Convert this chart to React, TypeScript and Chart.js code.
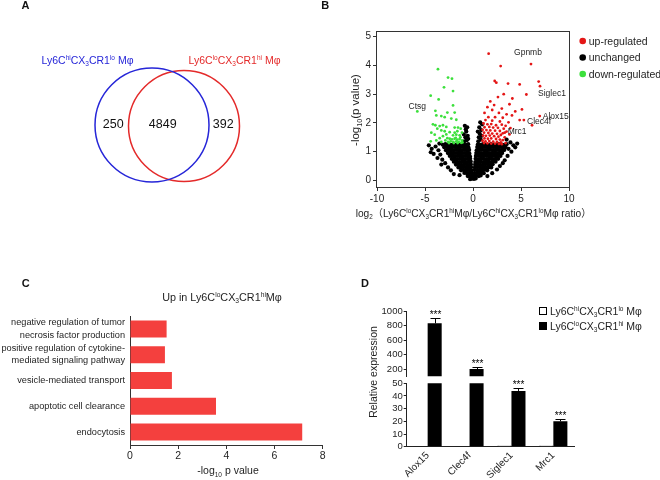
import React, { useEffect, useRef } from "react";
import { Chart, registerables } from "chart.js";
Chart.register(...registerables);

const FONT = "'Liberation Sans', Arial, Helvetica, 'Noto Sans CJK SC', sans-serif";
const INK = "#1e1e1e";
const BLUE = "#2626d8";
const RED = "#e42a2a";
const PT_RED = "#e41616";
const PT_GREEN = "#3ce03c";
const BAR_RED = "#f4403e";

type Seg = [string, number]; // 0 normal, 1 superscript, 2 subscript

// ---------- text pieces ----------
const hiLoName: Seg[] = [["Ly6C", 0], ["hi", 1], ["CX", 0], ["3", 2], ["CR1", 0], ["lo", 1], [" Mφ", 0]];
const loHiName: Seg[] = [["Ly6C", 0], ["lo", 1], ["CX", 0], ["3", 2], ["CR1", 0], ["hi", 1], [" Mφ", 0]];
const upTitle: Seg[] = [["Up in Ly6C", 0], ["lo", 1], ["CX", 0], ["3", 2], ["CR1", 0], ["hi", 1], ["Mφ", 0]];
const volcanoXTitle: Seg[] = [
  ["log", 0], ["2", 2], ["（Ly6C", 0], ["lo", 1], ["CX", 0], ["3", 2], ["CR1", 0], ["hi", 1], ["Mφ/Ly6C", 0],
  ["hi", 1], ["CX", 0], ["3", 2], ["CR1", 0], ["lo", 1], ["Mφ ratio）", 0],
];
const volcanoYTitle: Seg[] = [["-log", 0], ["10", 2], ["(p value)", 0]];
const goXTitle: Seg[] = [["-log", 0], ["10", 2], [" p value", 0]];

// ---------- Panel A data ----------
const vennNames: Seg[][] = [hiLoName, loHiName];
const vennCounts = [250, 4849, 392]; // only hi/lo, shared, only lo/hi

// ---------- Panel B data ----------
const upRegulated: [number, number][] = [
  [1.63, 4.41], [6.04, 4.05], [2.88, 3.98], [2.26, 3.46], [2.43, 3.4], [3.65, 3.37], [4.86, 3.34], [6.84, 3.44],
  [6.98, 3.28], [5.56, 2.99], [3.2, 3.0], [2.6, 2.9], [4.1, 2.85], [1.8, 2.75], [3.8, 2.65], [2.2, 2.62], [5.1, 2.47],
  [1.5, 2.55], [3.0, 2.5], [2.0, 2.45], [4.4, 2.4], [1.2, 2.35], [2.7, 2.35], [3.5, 2.3], [4.06, 2.26], [6.95, 2.24],
  [1.6, 2.2], [2.3, 2.2], [3.1, 2.18], [4.86, 2.1], [5.3, 2.1], [1.3, 2.1], [2.0, 2.08], [2.8, 2.05], [3.7, 2.02],
  [6.15, 1.92], [3.3, 1.66], [1.1, 1.98], [1.5, 1.95], [1.9, 1.96], [2.4, 1.92], [3.0, 1.94], [3.4, 1.9], [1.2, 1.85],
  [1.7, 1.86], [2.1, 1.84], [2.6, 1.83], [3.2, 1.8], [3.9, 1.82], [1.0, 1.76], [1.4, 1.75], [1.8, 1.74], [2.3, 1.73],
  [2.8, 1.72], [3.5, 1.7], [3.1, 1.64], [1.15, 1.66], [1.6, 1.65], [2.0, 1.63], [2.5, 1.62], [2.9, 1.58], [3.8, 1.6],
  [1.05, 1.56], [1.35, 1.55], [1.75, 1.56], [2.2, 1.54], [2.65, 1.52], [3.3, 1.5], [1.2, 1.46], [1.55, 1.45],
  [1.9, 1.46], [2.4, 1.44], [2.8, 1.42], [3.1, 1.4], [1.0, 1.38], [1.3, 1.36], [1.7, 1.37], [2.1, 1.35], [2.5, 1.34],
  [2.9, 1.32], [1.15, 1.3], [1.5, 1.29], [1.9, 1.28], [2.3, 1.28], [2.7, 1.27], [3.4, 1.3], [3.0, 1.26],
];
const downRegulated: [number, number][] = [
  [-5.8, 2.4], [-3.65, 3.87], [-2.6, 3.58], [-2.19, 3.54], [-3.02, 3.24], [-2.08, 3.11], [-4.41, 2.95], [-3.58, 2.82],
  [-2.08, 2.61], [-3.92, 2.42], [-2.67, 2.36], [-1.91, 2.36], [-3.82, 2.26], [-3.3, 2.24], [-2.95, 2.2], [-2.26, 2.15],
  [-1.74, 2.11], [-4.17, 1.95], [-3.92, 1.92], [-3.47, 1.89], [-3.13, 1.92], [-2.78, 1.86], [-1.91, 1.84], [-1.56, 1.84],
  [-1.28, 1.8], [-3.72, 1.8], [-3.3, 1.74], [-2.95, 1.71], [-2.43, 1.68], [-1.91, 1.66], [-1.63, 1.71], [-1.15, 1.66],
  [-4.34, 1.66], [-3.99, 1.59], [-2.08, 1.57], [-1.74, 1.59], [-1.39, 1.57], [-2.78, 1.6], [-2.67, 1.47], [-2.43, 1.45],
  [-2.19, 1.43], [-1.91, 1.45], [-1.63, 1.42], [-1.39, 1.44], [-1.15, 1.39], [-2.33, 1.36], [-2.05, 1.34], [-1.74, 1.36],
  [-1.49, 1.34], [-1.22, 1.31], [-2.88, 1.39], [-2.6, 1.34], [-4.41, 1.36], [-3.82, 1.39], [-3.3, 1.34], [-3.47, 1.47],
  [-3.13, 1.54], [-2.0, 1.3], [-1.8, 1.48], [-1.3, 1.5], [-2.5, 1.3], [-1.1, 1.32], [-1.6, 1.3],
];
const unchanged: [number, number][] = [
  [-0.3, 0.04], [-0.12, 0.06], [0.1, 0.05], [0.28, 0.07],
  [-0.55, 0.15], [-0.3, 0.13], [-0.1, 0.17], [0.12, 0.14], [0.35, 0.16], [0.6, 0.15], [0.8, 0.17],
  [-0.9, 0.26], [-0.62, 0.24], [-0.35, 0.25], [-0.14, 0.27], [0.15, 0.24], [0.42, 0.26], [0.68, 0.25], [0.92, 0.27], [1.12, 0.25],
  [-1.25, 0.35], [-0.97, 0.36], [-0.7, 0.34], [-0.42, 0.36], [-0.17, 0.35], [0.16, 0.36], [0.44, 0.34], [0.72, 0.36], [0.98, 0.35], [1.22, 0.37], [1.48, 0.35],
  [-1.52, 0.45], [-1.24, 0.44], [-0.96, 0.46], [-0.68, 0.45], [-0.42, 0.44], [-0.2, 0.46], [0.2, 0.45], [0.46, 0.46], [0.74, 0.44], [1.02, 0.45], [1.28, 0.47], [1.5, 0.44], [1.72, 0.46], [1.9, 0.45],
  [-1.78, 0.55], [-1.5, 0.56], [-1.22, 0.54], [-0.94, 0.55], [-0.66, 0.56], [-0.4, 0.54], [-0.22, 0.56], [0.22, 0.55], [0.48, 0.56], [0.76, 0.54], [1.04, 0.55], [1.32, 0.57], [1.58, 0.55], [1.8, 0.54], [2.05, 0.56],
  [-2.0, 0.65], [-1.72, 0.66], [-1.44, 0.64], [-1.16, 0.65], [-0.88, 0.66], [-0.6, 0.64], [-0.36, 0.65], [-0.24, 0.66], [0.24, 0.64], [0.5, 0.66], [0.78, 0.65], [1.06, 0.64], [1.34, 0.66], [1.62, 0.65], [1.9, 0.64], [2.15, 0.67], [2.35, 0.65],
  [-2.22, 0.75], [-1.94, 0.76], [-1.66, 0.74], [-1.38, 0.75], [-1.1, 0.76], [-0.82, 0.74], [-0.55, 0.75], [-0.3, 0.76], [0.27, 0.75], [0.54, 0.74], [0.82, 0.76], [1.1, 0.75], [1.38, 0.74], [1.66, 0.76], [1.94, 0.75], [2.2, 0.74], [2.45, 0.76], [2.62, 0.75],
  [-2.42, 0.85], [-2.14, 0.86], [-1.86, 0.84], [-1.58, 0.85], [-1.3, 0.86], [-1.02, 0.84], [-0.74, 0.85], [-0.48, 0.86], [-0.32, 0.84], [0.3, 0.85], [0.57, 0.86], [0.85, 0.84], [1.13, 0.85], [1.41, 0.86], [1.69, 0.84], [1.97, 0.85], [2.25, 0.86], [2.5, 0.84], [2.72, 0.86], [2.86, 0.85],
  [-2.62, 0.95], [-2.34, 0.96], [-2.06, 0.94], [-1.78, 0.95], [-1.5, 0.96], [-1.22, 0.94], [-0.94, 0.95], [-0.66, 0.96], [-0.38, 0.94], [0.34, 0.95], [0.6, 0.96], [0.88, 0.94], [1.16, 0.95], [1.44, 0.96], [1.72, 0.94], [2.0, 0.95], [2.28, 0.96], [2.56, 0.94], [2.8, 0.97], [3.04, 0.95],
  [-2.82, 1.05], [-2.54, 1.06], [-2.26, 1.04], [-1.98, 1.05], [-1.7, 1.06], [-1.42, 1.04], [-1.14, 1.05], [-0.86, 1.06], [-0.58, 1.04], [-0.4, 1.06], [0.38, 1.05], [0.64, 1.04], [0.92, 1.06], [1.2, 1.05], [1.48, 1.04], [1.76, 1.06], [2.04, 1.05], [2.32, 1.04], [2.6, 1.06], [2.86, 1.05], [3.1, 1.04], [3.26, 1.06],
  [-3.0, 1.15], [-2.72, 1.16], [-2.44, 1.14], [-2.16, 1.15], [-1.88, 1.16], [-1.6, 1.14], [-1.32, 1.15], [-1.04, 1.16], [-0.76, 1.14], [-0.48, 1.15], [0.44, 1.16], [0.7, 1.14], [0.98, 1.15], [1.26, 1.16], [1.54, 1.14], [1.82, 1.15], [2.1, 1.16], [2.38, 1.14], [2.66, 1.15], [2.94, 1.16], [3.2, 1.14], [3.4, 1.15],
  [-3.15, 1.24], [-2.88, 1.26], [-2.6, 1.25], [-2.32, 1.24], [-2.04, 1.26], [-1.76, 1.25], [-1.48, 1.24], [-1.2, 1.26], [-0.92, 1.25], [-0.64, 1.24], [-0.5, 1.26], [0.5, 1.25], [0.76, 1.24], [1.04, 1.26], [1.32, 1.25], [1.6, 1.24], [1.88, 1.26], [2.16, 1.25], [2.44, 1.24], [2.72, 1.26], [3.0, 1.25], [3.25, 1.24], [3.5, 1.26],
  [-4.6, 1.22], [-4.3, 1.1], [-3.9, 1.18], [-3.6, 1.05], [-4.1, 0.92], [-3.4, 0.9], [-3.7, 0.78], [-3.2, 0.72], [-2.9, 0.6], [-3.3, 0.55], [-2.6, 0.45], [-2.3, 0.35], [-4.4, 0.98], [-3.5, 1.28], [-2.0, 0.22], [-1.4, 0.18],
  [3.7, 1.1], [4.0, 1.0], [4.4, 1.15], [3.6, 0.85], [3.3, 0.7], [3.1, 0.6], [2.8, 0.5], [2.5, 0.38], [4.6, 1.28], [3.9, 1.32], [3.5, 1.42], [2.0, 0.25], [1.5, 0.15], [4.2, 1.22],
  [-0.9, 1.36], [-0.65, 1.4], [-0.8, 1.5], [-0.55, 1.55], [-0.95, 1.6], [-0.7, 1.7], [-0.6, 1.85], [-0.85, 1.9], [-0.5, 1.45], [-0.75, 1.78],
  [0.55, 1.36], [0.8, 1.42], [0.6, 1.5], [0.9, 1.55], [0.7, 1.62], [0.5, 1.7], [0.85, 1.75], [0.65, 1.85], [0.95, 1.95], [0.75, 2.02],
];
const geneNames = ["Gpnmb", "Siglec1", "Alox15", "Clec4f", "Mrc1", "Ctsg"];
const geneFold = [6.04, 6.98, 6.95, 6.15, 3.3, -5.8];
const genePval = [4.05, 3.28, 2.24, 1.92, 1.66, 2.4];
const volcanoLegend = ["up-regulated", "unchanged", "down-regulated"];

// ---------- Panel C data ----------
const goTerms: (string | string[])[] = [
  ["negative regulation of tumor", "necrosis factor production"],
  ["positive regulation of cytokine-", "mediated signaling pathway"],
  "vesicle-mediated transport",
  "apoptotic cell clearance",
  "endocytosis",
];
const goValues = [1.52, 1.45, 1.74, 3.57, 7.15];

// ---------- Panel D data ----------
const qpcrGenes = ["Alox15", "Clec4f", "Siglec1", "Mrc1"];
const hiLoExpr = [0.2, 0.2, 1.0, 1.0];
const loHiExpr = [830, 200, 44, 20];
const loHiErr = [80, 22, 2.6, 1.5];
const signif = ["***", "***", "***", "***"];

// ---------- layout (positions, not data) ----------
const VENN = {
  circles: [
    { cx: 152, cy: 125, r: 57, color: BLUE },
    { cx: 184, cy: 126, r: 55.5, color: RED },
  ],
  nameAt: [[87.5, 60], [234.5, 60]],
  countAt: [[113.3, 123], [162.7, 123], [223.3, 123]],
};
const GENE_LABEL_OFFSET: [number, number, CanvasTextAlign][] = [
  [-3, -12, "center"], [-2, 7, "left"], [3, -0.5, "left"], [-5, -4, "left"], [3, -1.5, "left"], [0, -6, "center"],
];

function drawRich(ctx: CanvasRenderingContext2D, segs: Seg[], x: number, y: number, size: number,
  align: string, color: string, weight = "normal") {
  const fontFor = (k: number) => `${weight} ${k ? size * 0.62 : size}px ${FONT}`;
  let w = 0;
  for (const [t, k] of segs) { ctx.font = fontFor(k); w += ctx.measureText(t).width; }
  let cx = align === "center" ? x - w / 2 : align === "right" ? x - w : x;
  const base = y + size * 0.36;
  ctx.save();
  ctx.fillStyle = color;
  ctx.textAlign = "left";
  ctx.textBaseline = "alphabetic";
  for (const [t, k] of segs) {
    ctx.font = fontFor(k);
    const dy = k === 1 ? -size * 0.34 : k === 2 ? size * 0.22 : 0;
    ctx.fillText(t, cx, base + dy);
    cx += ctx.measureText(t).width;
  }
  ctx.restore();
}
function drawRichV(ctx: CanvasRenderingContext2D, segs: Seg[], x: number, y: number, size: number, color: string) {
  ctx.save();
  ctx.translate(x, y);
  ctx.rotate(-Math.PI / 2);
  drawRich(ctx, segs, 0, 0, size, "center", color);
  ctx.restore();
}
function letter(ctx: CanvasRenderingContext2D, t: string, x: number, y: number) {
  drawRich(ctx, [[t, 0]], x, y, 11, "center", "#111", "bold");
}

const baseOpts = {
  responsive: false,
  animation: false as const,
  events: [] as any[],
  plugins: { legend: { display: false }, tooltip: { enabled: false } },
};
const tickFont = (size: number) => ({ family: FONT, size });

export default function App() {
  const aRef = useRef<HTMLCanvasElement>(null);
  const bRef = useRef<HTMLCanvasElement>(null);
  const cRef = useRef<HTMLCanvasElement>(null);
  const dLowRef = useRef<HTMLCanvasElement>(null);
  const dUpRef = useRef<HTMLCanvasElement>(null);

  useEffect(() => {
    const charts: Chart[] = [];

    // ---------------- Panel A : Venn ----------------
    charts.push(new Chart(aRef.current!, {
      type: "scatter",
      data: {
        datasets: VENN.circles.map((c) => ({
          data: [{ x: c.cx, y: c.cy }],
          pointRadius: c.r,
          pointHoverRadius: c.r,
          borderColor: c.color,
          backgroundColor: "rgba(0,0,0,0)",
          borderWidth: 1.5,
          clip: false as any,
        })),
      },
      options: {
        ...baseOpts,
        layout: { padding: 0, autoPadding: false },
        scales: {
          x: { type: "linear", display: false, min: 0, max: 330 },
          y: { type: "linear", display: false, min: 0, max: 240, reverse: true },
        },
      },
      plugins: [{
        id: "vennText",
        afterDraw(chart: any) {
          const ctx = chart.ctx as CanvasRenderingContext2D;
          const sx = chart.scales.x, sy = chart.scales.y;
          letter(ctx, "A", 25.5, 5);
          letter(ctx, "B", 325.3, 5);
          vennNames.forEach((segs, i) => {
            const [x, y] = VENN.nameAt[i];
            drawRich(ctx, segs, sx.getPixelForValue(x), sy.getPixelForValue(y), 10.5, "center", VENN.circles[i].color);
          });
          vennCounts.forEach((n, i) => {
            const [x, y] = VENN.countAt[i];
            drawRich(ctx, [[String(n), 0]], sx.getPixelForValue(x), sy.getPixelForValue(y), 12.5, "center", "#111");
          });
        },
      }],
    } as any));

    // ---------------- Panel B : volcano ----------------
    const legendColors = [PT_RED, "#000", PT_GREEN];
    charts.push(new Chart(bRef.current!, {
      type: "scatter",
      data: {
        datasets: [
          { label: volcanoLegend[0], data: upRegulated.map(([x, y]) => ({ x, y })), backgroundColor: PT_RED, pointRadius: 1.4, borderWidth: 0 },
          { label: volcanoLegend[2], data: downRegulated.map(([x, y]) => ({ x, y })), backgroundColor: PT_GREEN, pointRadius: 1.4, borderWidth: 0 },
          { label: volcanoLegend[1], data: unchanged.map(([x, y]) => ({ x, y })), backgroundColor: "#000", pointRadius: 2.1, borderWidth: 0 },
        ],
      },
      options: {
        ...baseOpts,
        layout: { padding: { left: 0, top: 31, right: 91, bottom: 0 }, autoPadding: false },
        scales: {
          x: {
            type: "linear", min: -10, max: 10,
            ticks: { stepSize: 5, font: tickFont(10), color: INK, padding: 2 },
            grid: { drawOnChartArea: false, drawTicks: true, tickLength: 4, color: "#333" },
            border: { display: false },
            afterFit: (s: any) => { s.height = 53; },
          },
          y: {
            type: "linear", min: -0.23, max: 5.2,
            ticks: { stepSize: 1, includeBounds: false, font: tickFont(10), color: INK, padding: 2 },
            grid: { drawOnChartArea: false, drawTicks: true, tickLength: 4, color: "#333" },
            border: { display: false },
            afterFit: (s: any) => { s.width = 47; },
          },
        },
      },
      plugins: [{
        id: "volcanoDecor",
        afterDraw(chart: any) {
          const ctx = chart.ctx as CanvasRenderingContext2D;
          const a = chart.chartArea;
          const sx = chart.scales.x, sy = chart.scales.y;
          ctx.save();
          ctx.strokeStyle = "#333";
          ctx.lineWidth = 1;
          ctx.strokeRect(Math.round(a.left) - 0.5, Math.round(a.top) + 0.5, Math.round(a.right - a.left) + 1, Math.round(a.bottom - a.top));
          ctx.restore();
          drawRich(ctx, volcanoXTitle, 143.5, 213, 10.2, "center", INK);
          drawRichV(ctx, volcanoYTitle, 25, 110, 11.5, INK);
          geneNames.forEach((g, i) => {
            const [dx, dy, al] = GENE_LABEL_OFFSET[i];
            const px = sx.getPixelForValue(geneFold[i]) + dx;
            const py = sy.getPixelForValue(genePval[i]) + dy;
            drawRich(ctx, [[g, 0]], px, py, 8.5, al, INK);
          });
          volcanoLegend.forEach((t, i) => {
            const y = 41 + i * 16.5;
            ctx.save();
            ctx.fillStyle = legendColors[i];
            ctx.beginPath();
            ctx.arc(252.7, y, 3.3, 0, Math.PI * 2);
            ctx.fill();
            ctx.restore();
            drawRich(ctx, [[t, 0]], 258.7, y, 10.5, "left", INK);
          });
        },
      }],
    } as any));

    // ---------------- Panel C : GO bars ----------------
    charts.push(new Chart(cRef.current!, {
      type: "bar",
      data: {
        labels: goTerms,
        datasets: [{ data: goValues, backgroundColor: BAR_RED, barPercentage: 0.66, categoryPercentage: 1 }],
      },
      options: {
        ...baseOpts,
        indexAxis: "y",
        layout: { padding: { left: 0, top: 76, right: 17.3, bottom: 0 } },
        scales: {
          x: {
            min: 0, max: 8,
            ticks: { stepSize: 2, font: tickFont(10.5), color: INK, padding: 1 },
            grid: { drawOnChartArea: false, tickLength: 4, color: "#333" },
            border: { color: "#333" },
            afterFit: (s: any) => { s.height = 35; },
          },
          y: {
            ticks: { font: { family: FONT, size: 9.2, lineHeight: 1.32 }, color: INK, padding: 5, autoSkip: false },
            grid: { display: false, drawTicks: false },
            border: { color: "#333" },
            afterFit: (s: any) => { s.width = 130; },
          },
        },
      },
      plugins: [{
        id: "goDecor",
        afterDraw(chart: any) {
          const ctx = chart.ctx as CanvasRenderingContext2D;
          letter(ctx, "C", 25.8, 43);
          drawRich(ctx, upTitle, 222, 56.7, 10.8, "center", INK);
          drawRich(ctx, goXTitle, 228, 230.7, 10.5, "center", INK);
        },
      }],
    } as any));

    // ---------------- Panel D : qPCR (broken axis) ----------------
    const errPlugin = {
      id: "errBars",
      afterDatasetsDraw(chart: any) {
        const ctx = chart.ctx as CanvasRenderingContext2D;
        const sy = chart.scales.y;
        const meta = chart.getDatasetMeta(1);
        ctx.save();
        ctx.strokeStyle = "#000";
        ctx.lineWidth = 1;
        loHiExpr.forEach((v, i) => {
          const top = v + loHiErr[i];
          if (top > sy.max || v < sy.min) return;
          const bar = meta.data[i];
          const x = Math.round(bar.x) + 0.5;
          const yTop = Math.round(sy.getPixelForValue(top)) + 0.5;
          const yBar = sy.getPixelForValue(v);
          ctx.beginPath();
          ctx.moveTo(x, yBar);
          ctx.lineTo(x, yTop);
          ctx.moveTo(x - 5, yTop);
          ctx.lineTo(x + 5, yTop);
          ctx.stroke();
          ctx.font = `10px ${FONT}`;
          ctx.fillStyle = "#000";
          ctx.textAlign = "center";
          ctx.textBaseline = "alphabetic";
          ctx.fillText(signif[i], x, yTop - 0.5);
        });
        ctx.restore();
      },
    };
    const dDatasets = () => [
      { label: "hiLo", data: hiLoExpr, backgroundColor: "#fff", borderColor: "#000", borderWidth: 1, categoryPercentage: 0.67, barPercentage: 1, clip: 0 },
      { label: "loHi", data: loHiExpr, backgroundColor: "#000", borderColor: "#000", borderWidth: 0, categoryPercentage: 0.67, barPercentage: 1, clip: 0 },
    ];
    const yAxisCommon = (min: number, max: number, step: number) => ({
      min, max,
      ticks: {
        stepSize: step, includeBounds: false, autoSkip: false, font: tickFont(9.5), color: INK, padding: 1,
        callback: (v: any) => String(v),
      },
      grid: { drawOnChartArea: false, tickLength: 3, color: "#222" },
      border: { color: "#222" },
      afterFit: (s: any) => { s.width = 66.7; },
    });

    charts.push(new Chart(dLowRef.current!, {
      type: "bar",
      data: { labels: qpcrGenes, datasets: dDatasets() },
      options: {
        ...baseOpts,
        layout: { padding: { left: 0, top: 113.3, right: 85.7, bottom: 0 } },
        scales: {
          x: {
            grid: { display: false, drawTicks: false },
            border: { display: true, color: "#222" },
            ticks: { minRotation: 45, maxRotation: 45, font: tickFont(10), color: INK, padding: 3, autoSkip: false },
            afterFit: (s: any) => { s.height = 33.3; },
          },
          y: yAxisCommon(0, 50, 10),
        },
      },
      plugins: [errPlugin, {
        id: "dDecor",
        afterDraw(chart: any) {
          const ctx = chart.ctx as CanvasRenderingContext2D;
          letter(ctx, "D", 25, 13);
          drawRichV(ctx, [["Relative expression", 0]], 33, 102, 10.5, INK);
          const names = [hiLoName, loHiName];
          const fills = ["#fff", "#000"];
          names.forEach((segs, i) => {
            const y = 41 + i * 15;
            ctx.save();
            ctx.fillStyle = fills[i];
            ctx.strokeStyle = "#000";
            ctx.lineWidth = 1;
            ctx.fillRect(199.5, y - 3.5, 7, 7);
            ctx.strokeRect(199.5, y - 3.5, 7, 7);
            ctx.restore();
            drawRich(ctx, segs, 210, y, 10.5, "left", INK);
          });
        },
      }],
    } as any));

    charts.push(new Chart(dUpRef.current!, {
      type: "bar",
      data: { labels: qpcrGenes, datasets: dDatasets() },
      options: {
        ...baseOpts,
        layout: { padding: { left: 0, top: 21, right: 85.7, bottom: 13.75 } },
        scales: {
          x: { display: false },
          y: yAxisCommon(100, 1000, 200),
        },
      },
      plugins: [errPlugin],
    } as any));

    return () => charts.forEach((c) => c.destroy());
  }, []);

  const abs = (l: number, t: number, w: number, h: number): React.CSSProperties => ({
    position: "absolute", left: l, top: t, width: w, height: h, display: "block",
  });

  return (
    <div style={{ position: "absolute", left: 0, top: 0, width: 660, height: 480, background: "#fff", overflow: "hidden" }}>
      <canvas ref={aRef} width={330} height={240} style={abs(0, 0, 330, 240)} />
      <canvas ref={bRef} width={330} height={240} style={abs(330, 0, 330, 240)} />
      <canvas ref={cRef} width={340} height={240} style={abs(0, 240, 340, 240)} />
      <canvas ref={dLowRef} width={320} height={210} style={abs(340, 270, 320, 210)} />
      <canvas ref={dUpRef} width={320} height={100} style={abs(340, 290, 320, 100)} />
    </div>
  );
}
